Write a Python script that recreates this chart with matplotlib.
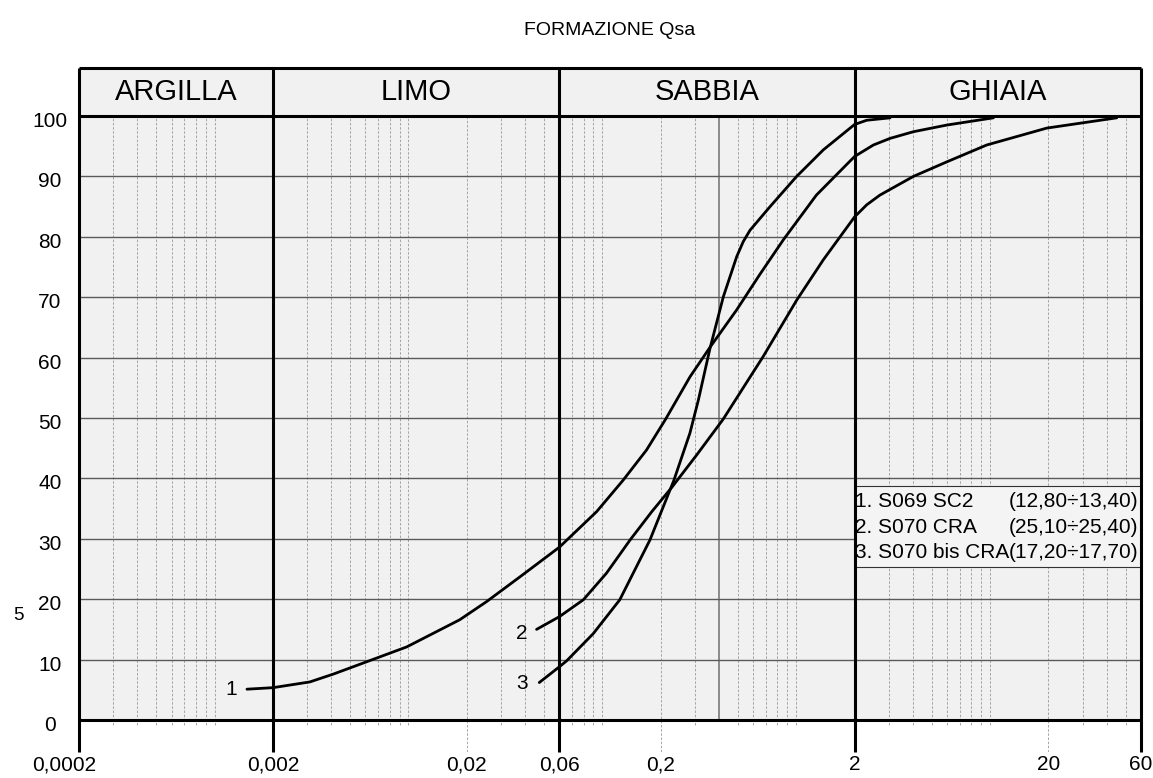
import matplotlib.pyplot as plt
import matplotlib.transforms as mtransforms
from matplotlib.patches import Rectangle
import numpy as np

plt.rcParams['font.family'] = ['Liberation Sans', 'DejaVu Sans']

# grain size (mm) and passing (%) for each sample
curve1_d = [0.00147, 0.002, 0.0031, 0.0041, 0.0061, 0.0098, 0.0184, 0.0253, 0.0376, 0.06,
            0.0935, 0.128, 0.169, 0.212, 0.283, 0.359, 0.493, 0.65, 0.858, 1.27, 2.0, 2.5,
            3.05, 4.02, 5.97, 10.4]
curve1_p = [5.1, 5.35, 6.3, 7.6, 9.65, 12.1, 16.6, 19.6, 23.7, 28.6,
            34.5, 39.7, 44.7, 49.8, 56.8, 61.7, 67.9, 73.8, 79.5, 86.9, 93.3, 95.2,
            96.3, 97.4, 98.5, 99.7]

curve2_d = [0.0458, 0.06, 0.0798, 0.105, 0.139, 0.18, 0.228, 0.307, 0.42, 0.676, 1.005, 1.38,
            2.0, 2.31, 2.70, 4.02, 5.97, 9.6, 19.6, 45.0]
curve2_p = [15.0, 17.1, 19.9, 24.3, 29.8, 34.5, 38.5, 43.9, 49.8, 60.2, 69.5, 76.2,
            83.3, 85.3, 86.9, 90.0, 92.4, 95.2, 98.0, 99.7]

curve3_d = [0.0473, 0.06, 0.0655, 0.0898, 0.123, 0.176, 0.234, 0.283, 0.313, 0.359, 0.421,
            0.493, 0.533, 0.578, 0.733, 1.005, 1.38, 2.0, 2.31, 3.05]
curve3_p = [6.2, 8.8, 9.8, 14.3, 19.9, 29.8, 39.7, 47.5, 53.0, 61.5, 70.1,
            76.7, 79.2, 81.1, 85.0, 90.0, 94.4, 98.6, 99.3, 99.7]

curve_names = ['1', '2', '3']
curve_label_pos = [(0.001226, 5.1), (0.0384, 14.4), (0.0384, 6.0)]

legend_names = ['1. S069 SC2', '2. S070 CRA', '3. S070 bis CRA']
legend_ranges = ['(12,80÷13,40)', '(25,10÷25,40)', '(17,20÷17,70)']

classes = ['ARGILLA', 'LIMO', 'SABBIA', 'GHIAIA']
class_bounds = [0.0002, 0.002, 0.06, 2, 60]

x_ticks = [0.0002, 0.002, 0.02, 0.06, 0.2, 2, 20, 60]
x_tick_labels = ['0,0002', '0,002', '0,02', '0,06', '0,2', '2', '20', '60']
y_ticks = list(range(0, 101, 10))

XMIN, XMAX = 0.0002, 60
Y_LOW, Y_HEAD = -5.3, 107.95
GREY_BG = '#f1f1f1'

fig = plt.figure(figsize=(11.53, 7.78), dpi=100)
ax = fig.add_axes([79 / 1153, 1 - 752 / 778, 1062 / 1153, 684 / 778])
ax.set_xscale('log')
ax.set_xlim(XMIN, XMAX)
ax.set_ylim(Y_LOW, Y_HEAD)
for s in ax.spines.values():
    s.set_visible(False)
ax.patch.set_visible(False)
ax.set_xticks([])
ax.set_yticks([])
ax.xaxis.set_minor_locator(plt.NullLocator())

# plot area and header background
ax.axhspan(0, Y_HEAD, color=GREY_BG, zorder=0, lw=0)

# dashed log grid
bold = class_bounds + [0.4]
minor = []
for e in range(-4, 2):
    for k in range(1, 10):
        v = k * 10.0 ** e
        if XMIN < v < XMAX and not np.any(np.isclose(v, bold)):
            minor.append(v)
long_dash = [v for v in minor if np.any(np.isclose(v, x_ticks))]
short_dash = [v for v in minor if v not in long_dash]
dash = (0, (3, 2))
ax.vlines(short_dash, -0.9, 100, color='#999999', lw=0.6, linestyles=[dash], zorder=1)
ax.vlines(long_dash, Y_LOW, 100, color='#999999', lw=0.6, linestyles=[dash], zorder=1)
ax.vlines([0.4], 0, 100, color='#7a7a7a', lw=1.2, zorder=1)

# horizontal grid
ax.hlines(y_ticks[1:-1], XMIN, XMAX, color='#5a5a5a', lw=1.0, zorder=2)

# frame and class boundaries
ax.vlines(class_bounds, Y_LOW, Y_HEAD, color='black', lw=2.2, zorder=5, clip_on=False)
ax.hlines([0, 100, Y_HEAD], XMIN, XMAX, color='black', lw=2.2, zorder=5, clip_on=False)

# class names in the header
for i, name in enumerate(classes):
    xc = np.sqrt(class_bounds[i] * class_bounds[i + 1])
    ax.text(xc, 103.9, name, ha='center', va='center', fontsize=21, zorder=6)

# grading curves
for d, p in [(curve1_d, curve1_p), (curve2_d, curve2_p), (curve3_d, curve3_p)]:
    ax.plot(d, p, color='black', lw=2.0, zorder=7, solid_capstyle='round',
            solid_joinstyle='round')
for name, (lx, ly) in zip(curve_names, curve_label_pos):
    ax.text(lx, ly, name, ha='center', va='center', fontsize=15, zorder=7)

# legend box
ax.add_patch(Rectangle((2, 25.3), 58, 13.5, facecolor='#f4f4f4', edgecolor='#333333',
                       lw=0.8, zorder=4))
for i, (name, rng) in enumerate(zip(legend_names, legend_ranges)):
    y = 36.1 - i * 4.2
    ax.text(2.02, y, name, ha='left', va='center', fontsize=15, zorder=6)
    ax.text(58.0, y, rng, ha='right', va='center', fontsize=15, zorder=6)

# axis labels
down = mtransforms.ScaledTranslation(0, -0.055, fig.dpi_scale_trans)
ytr = ax.get_yaxis_transform() + down
for v in y_ticks:
    ax.text(-29 / 1062, v, str(v), transform=ytr, ha='center', va='center', fontsize=15)
for v, lbl in zip(x_ticks, x_tick_labels):
    tr = ax.transData
    if v == XMIN:
        tr = tr + mtransforms.ScaledTranslation(-0.15, 0, fig.dpi_scale_trans)
    ax.text(v, -7.45, lbl, transform=tr, ha='center', va='center', fontsize=15)

fig.text(18 / 1153, 1 - 615 / 778, '5', ha='center', va='center', fontsize=13.5)
fig.text(0.529, 0.961, 'FORMAZIONE Qsa', ha='center', va='center', fontsize=14)

plt.savefig('out.png', dpi=100)
